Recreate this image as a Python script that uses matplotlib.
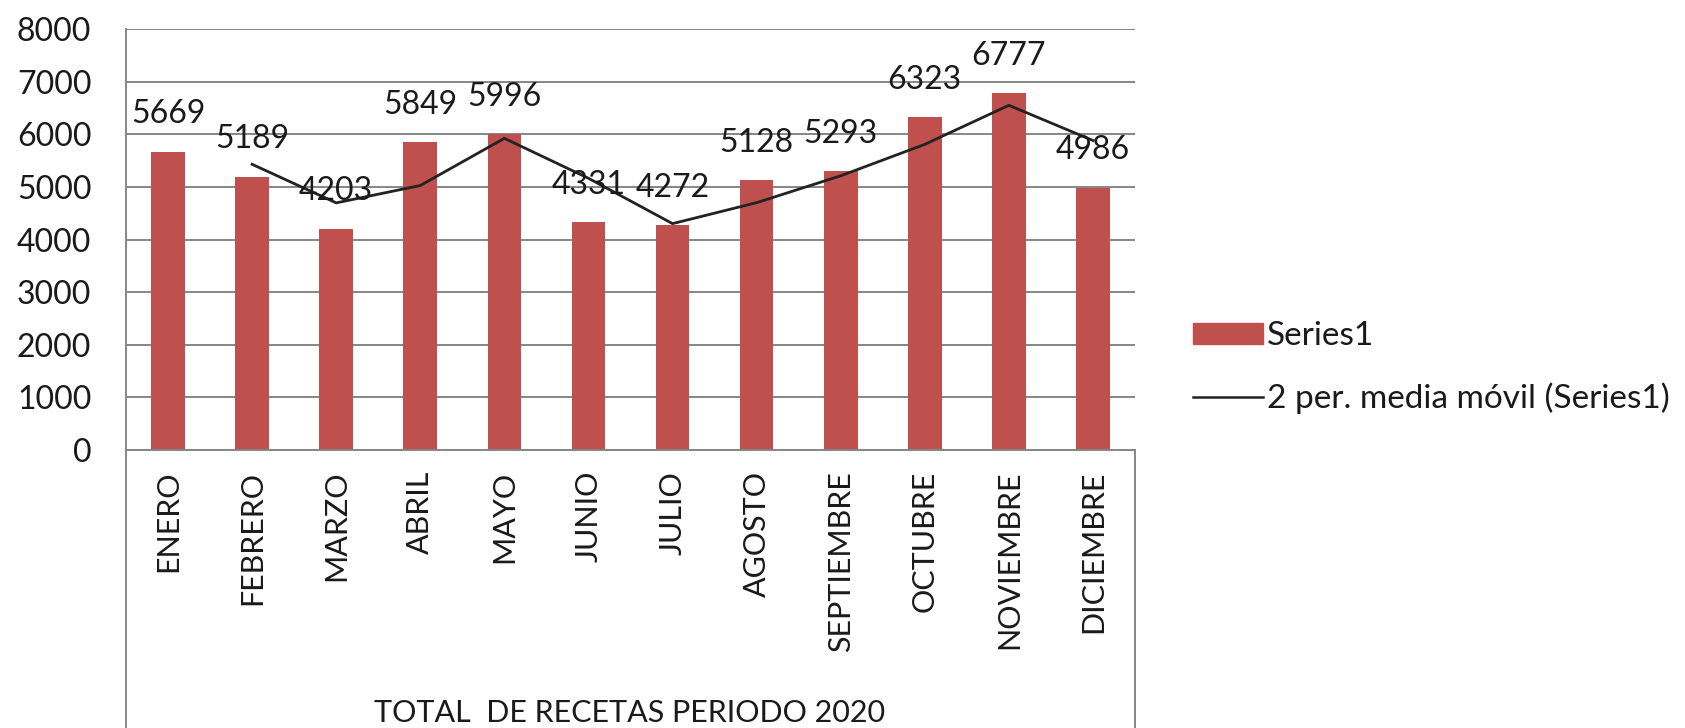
import numpy as np
import pandas as pd
import matplotlib
matplotlib.use("Agg")
import matplotlib.pyplot as plt
from matplotlib.lines import Line2D
from matplotlib.patches import Patch

# datos
meses = ["ENERO", "FEBRERO", "MARZO", "ABRIL", "MAYO", "JUNIO", "JULIO",
         "AGOSTO", "SEPTIEMBRE", "OCTUBRE", "NOVIEMBRE", "DICIEMBRE"]
recetas = [5669, 5189, 4203, 5849, 5996, 4331, 4272, 5128, 5293, 6323, 6777, 4986]
titulo_eje = "TOTAL  DE RECETAS PERIODO 2020"
nombre_serie = "Series1"
nombre_media = "2 per. media móvil (Series1)"

# linea de tendencia: media movil de 2 periodos
media_movil = pd.Series(recetas).rolling(2).mean()

plt.rcParams['font.family'] = ['Lato', 'DejaVu Sans']
FS = 22
FS_NUM = 23
ROJO = "#C0504D"
GRIS = "#868686"
TXT = "#1a1a1a"

W, H = 1685, 728
fig = plt.figure(figsize=(W / 100, H / 100), dpi=100)
x0, x1, ytop, ybot = 126, 1135, 29, 450
ax = fig.add_axes([x0 / W, 1 - ybot / H, (x1 - x0) / W, (ybot - ytop) / H])

x = np.arange(len(meses))
ax.bar(x, recetas, width=0.4, color=ROJO, zorder=2)
ax.plot(x, media_movil, color="#222222", lw=2.0, zorder=3)

for xi, v in zip(x, recetas):
    ax.annotate(str(v), (xi, v), xytext=(0, 27), textcoords="offset points",
                ha="center", va="center", fontsize=FS_NUM, color=TXT, zorder=4)

ax.set_xlim(-0.5, len(meses) - 0.5)
ax.set_ylim(0, 8000)
ax.set_yticks(range(0, 9000, 1000))
ax.set_xticks(x)
ax.set_xticklabels(meses, rotation=90)
ax.yaxis.grid(True, color=GRIS, lw=1.4)
ax.set_axisbelow(True)
ax.tick_params(axis="y", length=0, pad=25, labelsize=FS_NUM, labelcolor=TXT)
ax.tick_params(axis="x", length=0, pad=15, labelsize=FS, labelcolor=TXT)
for s in ["top", "right"]:
    ax.spines[s].set_visible(False)
for s in ["left", "bottom"]:
    ax.spines[s].set_color(GRIS)
    ax.spines[s].set_linewidth(1.4)

# lineas de la caja del eje de categorias
for xp in (x0, x1):
    fig.add_artist(Line2D([xp / W, xp / W], [0, 1 - ybot / H], color=GRIS, lw=1.4))

fig.text(630 / W, 1 - 713 / H, titulo_eje, ha="center", va="center",
         fontsize=FS, color=TXT)

handles = [Patch(color=ROJO, label=nombre_serie),
           Line2D([], [], color="#222222", lw=1.8, label=nombre_media)]
fig.legend(handles=handles, loc="upper left", bbox_to_anchor=(1193 / W, 1 - 321 / H),
           frameon=False, borderpad=0, borderaxespad=0, handlelength=2.1,
           handletextpad=0.12, handleheight=0.58, labelspacing=0.95, fontsize=24,
           labelcolor=TXT)

fig.savefig("out.png", dpi=100)
